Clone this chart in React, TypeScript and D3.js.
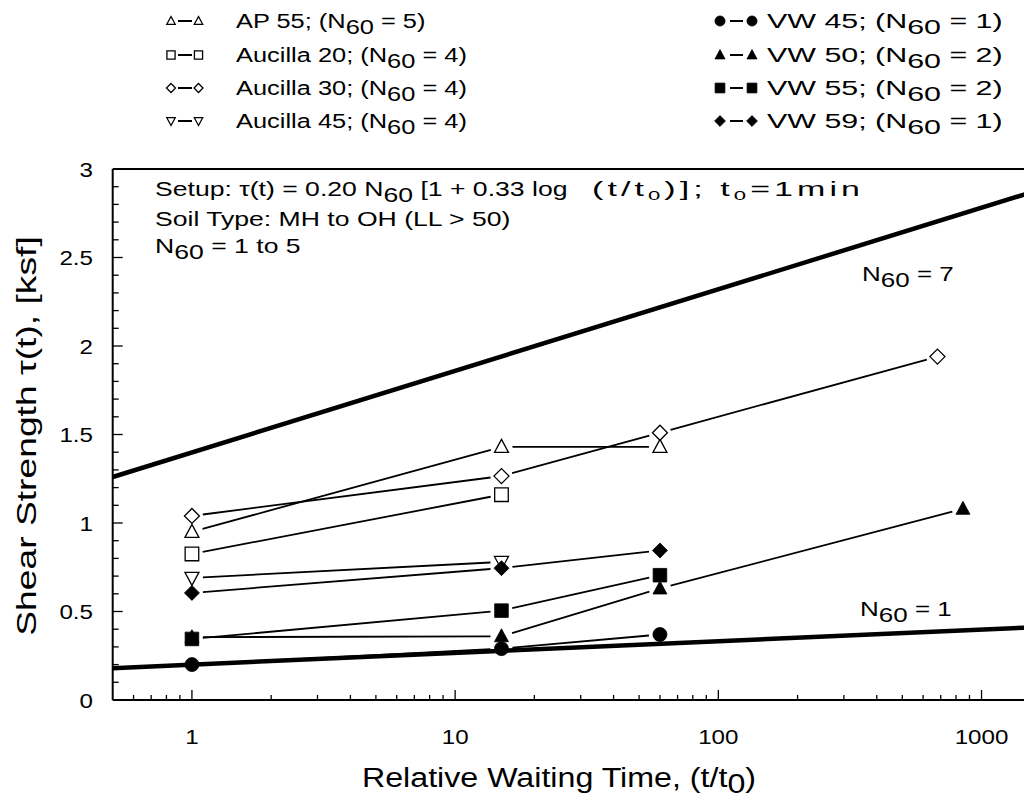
import React from "react";
import * as d3 from "d3";

// ---------- data ----------
const seriesNames = ["AP 55", "Aucilla 20", "Aucilla 30", "Aucilla 45", "VW 45", "VW 50", "VW 55", "VW 59"];
const seriesN60 = [5, 4, 4, 4, 1, 2, 2, 1];
const seriesSymbols = ["triUp", "square", "diamond", "triDown", "circle", "triUp", "square", "diamond"];
const seriesFilled = [false, false, false, false, true, true, true, true];

const ap55T = [1, 15, 60];
const ap55V = [0.95, 1.43, 1.43];
const aucilla20T = [1, 15];
const aucilla20V = [0.825, 1.16];
const aucilla30T = [1, 15, 60, 680];
const aucilla30V = [1.04, 1.265, 1.51, 1.94];
const aucilla45T = [1, 15];
const aucilla45V = [0.69, 0.78];
const vw45T = [1, 15, 60];
const vw45V = [0.2, 0.29, 0.37];
const vw50T = [1, 15, 60, 850];
const vw50V = [0.355, 0.36, 0.63, 1.08];
const vw55T = [1, 15, 60];
const vw55V = [0.345, 0.505, 0.705];
const vw59T = [1, 15, 60];
const vw59V = [0.605, 0.745, 0.845];

const seriesT = [ap55T, aucilla20T, aucilla30T, aucilla45T, vw45T, vw50T, vw55T, vw59T];
const seriesV = [ap55V, aucilla20V, aucilla30V, aucilla45V, vw45V, vw50V, vw55V, vw59V];

// theoretical bound lines (endpoints)
const n7LineT = [0.5, 2000];
const n7LineV = [1.26, 2.92];
const n1LineT = [0.5, 2000];
const n1LineV = [0.18, 0.418];

const xTickLabels = [1, 10, 100, 1000];
const yTickLabels = [0, 0.5, 1, 1.5, 2, 2.5, 3];

// ---------- layout ----------
const W = 1024;
const H = 802;
const LEFT = 112.7;
const TOP = 169;
const BOTTOM = 700;
const DECADE = 263.2;
const xDomain = [0.5, 2000];
const x = d3
  .scaleLog()
  .domain(xDomain)
  .range([LEFT, LEFT + DECADE * Math.log10(xDomain[1] / xDomain[0])]);
const y = d3.scaleLinear().domain([0, 3]).range([BOTTOM, TOP]);

const FONT = "'Liberation Sans', Arial, Helvetica, sans-serif";

function symbolPath(kind: string, s: number) {
  switch (kind) {
    case "triUp":
      return `M0,${-7.5 * s}L${7 * s},${5.5 * s}L${-7 * s},${5.5 * s}Z`;
    case "triDown":
      return `M0,${7.5 * s}L${7 * s},${-5.5 * s}L${-7 * s},${-5.5 * s}Z`;
    case "square":
      return `M${-6.8 * s},${-6.8 * s}h${13.6 * s}v${13.6 * s}h${-13.6 * s}Z`;
    case "diamond":
      return `M0,${-7.5 * s}L${7.5 * s},0L0,${7.5 * s}L${-7.5 * s},0Z`;
    case "circle":
    default: {
      const r = 7 * s;
      return `M${r},0A${r},${r} 0 1,1 ${-r},0A${r},${r} 0 1,1 ${r},0Z`;
    }
  }
}

function Marker({ kind, filled, cx, cy, s = 1 }: any) {
  return (
    <path
      d={symbolPath(kind, s)}
      transform={`translate(${cx},${cy})`}
      fill={filled ? "#000" : "#fff"}
      stroke="#000"
      strokeWidth={filled ? 0.8 : 1.3}
    />
  );
}

function SText({ x: tx, y: ty, sx = 1, anchor = "start", size = 20, rotate = 0, spacing = 0, children }: any) {
  return (
    <text
      transform={`translate(${tx},${ty})${rotate ? ` rotate(${rotate})` : ""} scale(${sx},1)`}
      textAnchor={anchor}
      fontSize={size}
      fontFamily={FONT}
      fill="#000"
      letterSpacing={spacing}
      style={{ whiteSpace: "pre" }}
    >
      {children}
    </text>
  );
}

const lineGen = d3.line<[number, number]>().x((d) => d[0]).y((d) => d[1]);

function gappedSegments(ts: number[], vs: number[], gap: number) {
  const pts = ts.map((t, i) => [x(t), y(vs[i])] as [number, number]);
  const segs: string[] = [];
  for (let i = 0; i < pts.length - 1; i++) {
    const [x0, y0] = pts[i];
    const [x1, y1] = pts[i + 1];
    const dx = x1 - x0;
    const dy = y1 - y0;
    const len = Math.hypot(dx, dy);
    if (len <= 2 * gap) continue;
    const ux = dx / len;
    const uy = dy / len;
    segs.push(
      lineGen([
        [x0 + ux * gap, y0 + uy * gap],
        [x1 - ux * gap, y1 - uy * gap],
      ]) as string
    );
  }
  return segs;
}

export default function App() {
  const xTicks = x.ticks();
  const yTicks = y.ticks(30);
  const rightEdge = W;

  const legendRows = [28, 62, 95, 128];
  const legendCols = [
    { s1: 171, d0: 178, d1: 192, s2: 198.5, tx: 236, sx: 1.27 },
    { s1: 720, d0: 730, d1: 743, s2: 752, tx: 767, sx: 1.52 },
  ];

  return (
    <svg
      width={W}
      height={H}
      viewBox={`0 0 ${W} ${H}`}
      style={{ position: "absolute", left: 0, top: 0, background: "#fff" }}
    >
      <rect x={0} y={0} width={W} height={H} fill="#fff" />
      <defs>
        <clipPath id="plotClip">
          <rect x={LEFT} y={TOP} width={W - LEFT} height={BOTTOM - TOP} />
        </clipPath>
      </defs>

      {/* legend */}
      {seriesNames.map((name, i) => {
        const col = legendCols[i < 4 ? 0 : 1];
        const by = legendRows[i % 4];
        const cy = by - 7;
        return (
          <g key={name}>
            <Marker kind={seriesSymbols[i]} filled={seriesFilled[i]} cx={col.s1} cy={cy} s={seriesFilled[i] ? 0.72 : 0.6} />
            <line x1={col.d0} x2={col.d1} y1={cy} y2={cy} stroke="#000" strokeWidth={2} />
            <Marker kind={seriesSymbols[i]} filled={seriesFilled[i]} cx={col.s2} cy={cy} s={seriesFilled[i] ? 0.72 : 0.6} />
            <SText x={col.tx} y={by} sx={col.sx} size={20}>
              {`${name}; (N`}
              <tspan dy={6}>60</tspan>
              <tspan dy={-6}>{` = ${seriesN60[i]})`}</tspan>
            </SText>
          </g>
        );
      })}

      {/* frame */}
      <g stroke="#000" fill="none">
        <line x1={LEFT} x2={LEFT} y1={TOP} y2={BOTTOM} strokeWidth={2} />
        <line x1={LEFT} x2={rightEdge} y1={BOTTOM} y2={BOTTOM} strokeWidth={2} />
        <line x1={LEFT} x2={rightEdge} y1={TOP} y2={TOP} strokeWidth={1.8} />
      </g>

      {/* x ticks */}
      <g stroke="#000" strokeWidth={1.3}>
        {xTicks
          .filter((t) => x(t) > LEFT + 1 && x(t) < W)
          .map((t, i) => {
            const major = Math.abs(Math.log10(t) - Math.round(Math.log10(t))) < 1e-9;
            return <line key={i} x1={x(t)} x2={x(t)} y1={BOTTOM} y2={BOTTOM - (major ? 10 : 5)} />;
          })}
      </g>
      {/* y ticks */}
      <g stroke="#000" strokeWidth={1.3}>
        {yTicks
          .filter((v) => v > 0 && v < 3)
          .map((v, i) => {
            const major = Math.abs(v * 2 - Math.round(v * 2)) < 1e-6;
            return <line key={i} x1={LEFT} x2={LEFT + (major ? 10 : 6)} y1={y(v)} y2={y(v)} />;
          })}
      </g>

      {/* tick labels */}
      {xTickLabels.map((t) => (
        <SText key={t} x={x(t)} y={744} anchor="middle" size={21} sx={1.15}>
          {String(t)}
        </SText>
      ))}
      {yTickLabels.map((v) => (
        <SText key={v} x={93} y={y(v) + 7.5} anchor="end" size={21} sx={1.15}>
          {String(v)}
        </SText>
      ))}

      {/* axis titles */}
      <SText x={559} y={787} anchor="middle" size={28} sx={1.15}>
        {"Relative Waiting Time, (t/t"}
        <tspan dy={6}>0</tspan>
        <tspan dy={-6}>)</tspan>
      </SText>
      <SText x={36} y={436} anchor="middle" size={28} sx={1.33} rotate={-90}>
        {"Shear Strength τ(t), [ksf]"}
      </SText>

      {/* plot content */}
      <g clipPath="url(#plotClip)">
        <path
          d={lineGen(n7LineT.map((t, i) => [x(t), y(n7LineV[i])]) as any) as string}
          stroke="#000"
          strokeWidth={4.5}
          fill="none"
        />
        <path
          d={lineGen(n1LineT.map((t, i) => [x(t), y(n1LineV[i])]) as any) as string}
          stroke="#000"
          strokeWidth={4.5}
          fill="none"
        />
        {seriesT.map((ts, i) =>
          gappedSegments(ts, seriesV[i], 11).map((d, j) => (
            <path key={`${i}-${j}`} d={d} stroke="#000" strokeWidth={1.8} fill="none" />
          ))
        )}
        {seriesT.map((ts, i) =>
          ts.map((t, j) => (
            <Marker
              key={`m${i}-${j}`}
              kind={seriesSymbols[i]}
              filled={seriesFilled[i]}
              cx={x(t)}
              cy={y(seriesV[i][j])}
            />
          ))
        )}
      </g>

      {/* annotations */}
      <SText x={155} y={196} size={20} sx={1.33}>
        {"Setup: τ(t) = 0.20 N"}
        <tspan dy={6}>60</tspan>
        <tspan dy={-6}>{" [1 + 0.33 log "}</tspan>
      </SText>
      <SText x={592} y={196} size={20} sx={1.7} spacing={2.4}>
        {"(t/t"}
        <tspan dy={4} fontSize={13}>0</tspan>
        <tspan dy={-4}>{")]; t"}</tspan>
        <tspan dy={4} fontSize={13}>0</tspan>
        <tspan dy={-4}>{"=1min"}</tspan>
      </SText>
      <SText x={155} y={226} size={20} sx={1.33}>
        {"Soil Type: MH to OH (LL > 50)"}
      </SText>
      <SText x={155} y={253} size={20} sx={1.33}>
        {"N"}
        <tspan dy={6}>60</tspan>
        <tspan dy={-6}>{" = 1 to 5"}</tspan>
      </SText>
      <SText x={862} y={281} size={20} sx={1.3}>
        {"N"}
        <tspan dy={6}>60</tspan>
        <tspan dy={-6}>{" = 7"}</tspan>
      </SText>
      <SText x={860} y={616} size={20} sx={1.3}>
        {"N"}
        <tspan dy={6}>60</tspan>
        <tspan dy={-6}>{" = 1"}</tspan>
      </SText>
    </svg>
  );
}
